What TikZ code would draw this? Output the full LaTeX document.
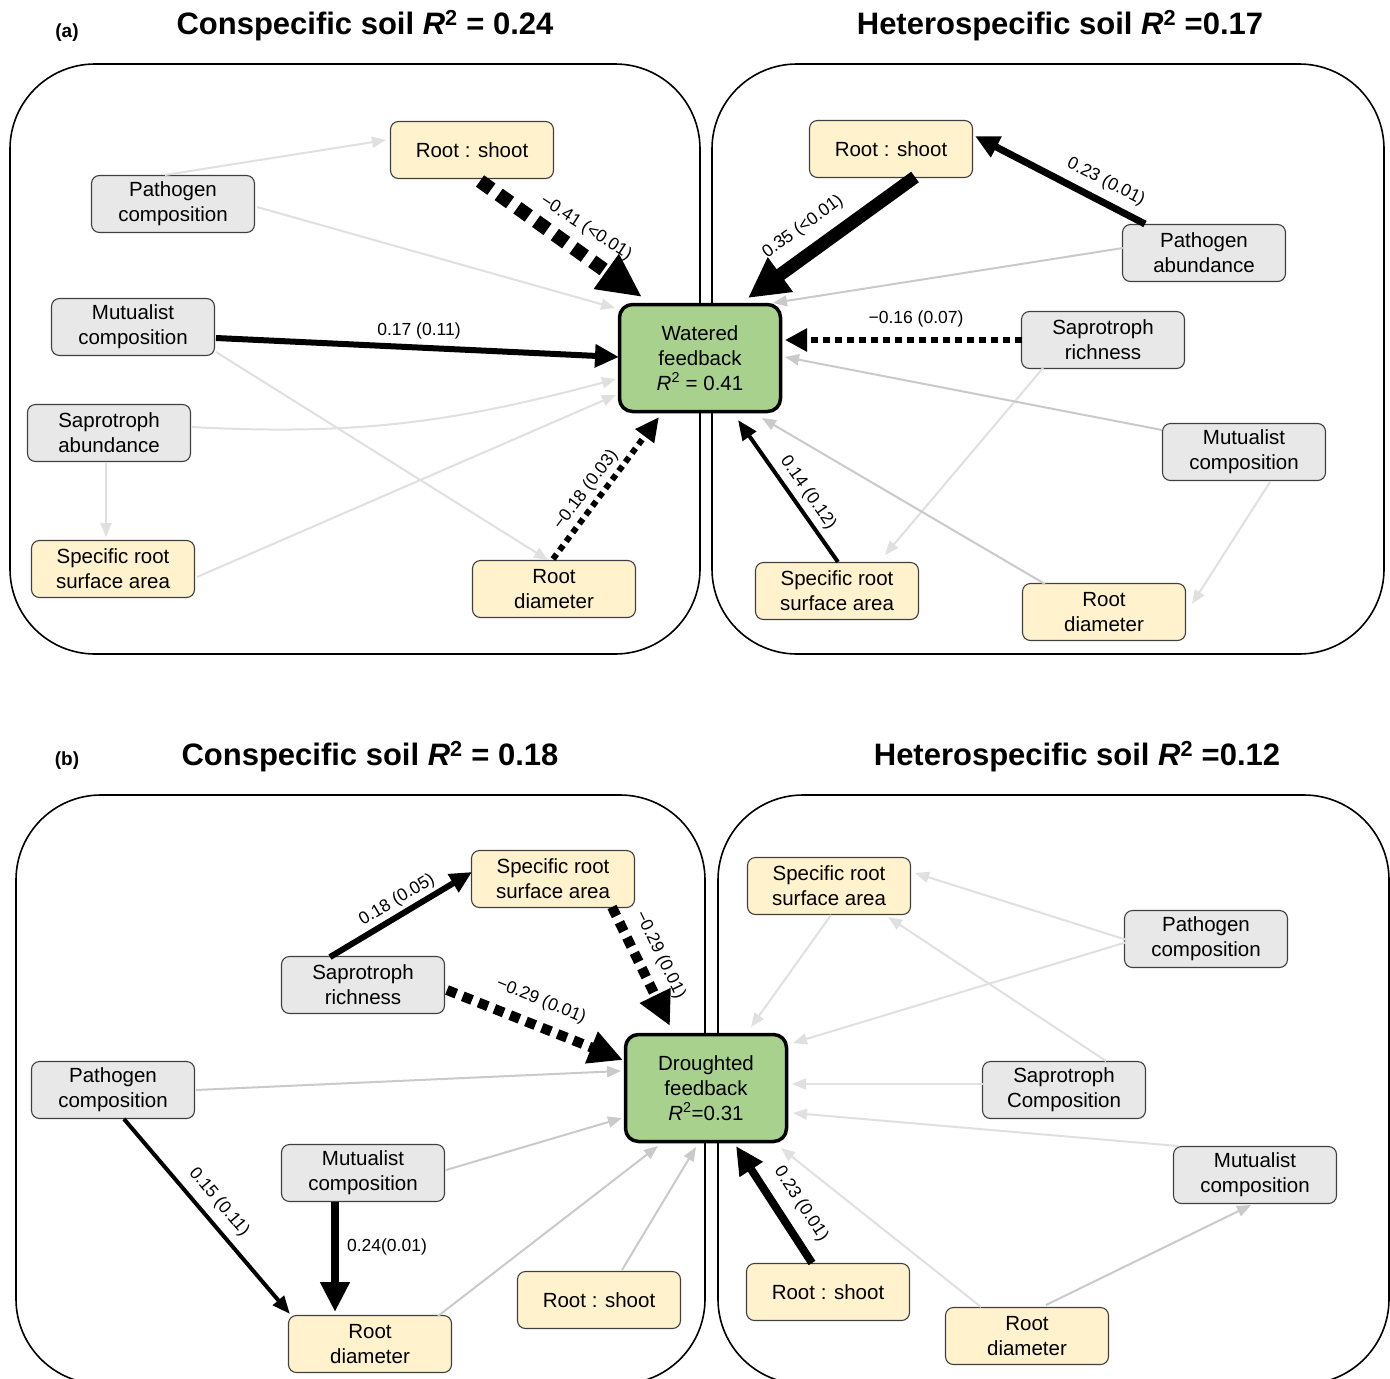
\documentclass[tikz,border=0pt]{standalone}
\usepackage{fontspec}
\setmainfont{Liberation Sans}
\usetikzlibrary{arrows.meta,calc}
\definecolor{gfill}{HTML}{E8E8E8}
\definecolor{yfill}{HTML}{FFF2CC}
\definecolor{grn}{HTML}{A9D18E}
\definecolor{eA}{HTML}{E0E0E0}
\definecolor{eB}{HTML}{CACACA}
\begin{document}
\begin{tikzpicture}[x=1pt,y=-1pt,
 box/.style={draw=black!75, line width=1.1pt, rounded corners=8pt, minimum width=163pt, minimum height=57pt, inner sep=0pt, align=center, font=\fontsize{20.5}{25}\selectfont},
 gbox/.style={box, fill=gfill},
 ybox/.style={box, fill=yfill},
 fb/.style={draw=black, line width=3.5pt, rounded corners=13pt, fill=grn, minimum width=161pt, minimum height=107pt, align=center, inner sep=0pt, font=\fontsize{20.5}{25}\selectfont},
 panel/.style={draw=black, line width=1.6pt, rounded corners=85pt},
 ga/.style={draw=eA, line width=2pt, -{Triangle[length=14pt,width=11pt]}},
 gb/.style={draw=eB, line width=2pt, -{Triangle[length=14pt,width=11pt]}},
 bk/.style={draw=black},
 lab/.style={font=\fontsize{17.5}{21}\selectfont, inner sep=0pt},
 ttl/.style={font=\fontsize{31}{36}\bfseries\selectfont, inner sep=0pt},
 tag/.style={font=\fontsize{19}{22}\bfseries\selectfont, inner sep=0pt}
]
\useasboundingbox (0,0) rectangle (1390,1379);
\fill[white] (0,0) rectangle (1390,1379);

% containers
\draw[panel] (10,64) rectangle (700,654);
\draw[panel] (712,64) rectangle (1384,654);
\draw[panel] (16,795) rectangle (705,1384);
\draw[panel] (718,795) rectangle (1389,1384);

% titles
\node[tag] (ta) at (67,33) {(a)};
\node[ttl] (t1) at (365,26) {Conspecific soil \textit{R}\textsuperscript{2} = 0.24};
\node[ttl] (t2) at (1060,26) {Heterospecific soil \textit{R}\textsuperscript{2} =0.17};
\node[tag] (tb) at (67,761) {(b)};
\node[ttl] (t3) at (370,757) {Conspecific soil \textit{R}\textsuperscript{2} = 0.18};
\node[ttl] (t4) at (1077,757) {Heterospecific soil \textit{R}\textsuperscript{2} =0.12};

% central boxes
\node[fb] (wfA) at (700,358) {Watered\\feedback\\\textit{R}\textsuperscript{2} = 0.41};
\node[fb] (df) at (706,1088) {Droughted\\feedback\\\textit{R}\textsuperscript{2}=0.31};

% (a) left nodes
\node[ybox] (rsA) at (472,150) {Root : shoot};
\node[gbox] (pcA) at (173,204) {Pathogen\\composition};
\node[gbox] (mcA) at (133,327) {Mutualist\\composition};
\node[gbox] (saA) at (109,433) {Saprotroph\\abundance};
\node[ybox] (srA) at (113,569) {Specific root\\surface area};
\node[ybox] (rdA) at (554,589) {Root\\diameter};

% (a) right nodes
\node[ybox] (rsB) at (891,149) {Root : shoot};
\node[gbox] (paB) at (1204,253) {Pathogen\\abundance};
\node[gbox] (srB) at (1103,340) {Saprotroph\\richness};
\node[gbox] (mcB) at (1244,452) {Mutualist\\composition};
\node[ybox] (ssB) at (837,591) {Specific root\\surface area};
\node[ybox] (rdB) at (1104,612) {Root\\diameter};

% (b) left nodes
\node[ybox] (ssC) at (553,879) {Specific root\\surface area};
\node[gbox] (srC) at (363,985) {Saprotroph\\richness};
\node[gbox] (pcC) at (113,1090) {Pathogen\\composition};
\node[gbox] (mcC) at (363,1173) {Mutualist\\composition};
\node[ybox] (rdC) at (370,1344) {Root\\diameter};
\node[ybox] (rsC) at (599,1300) {Root : shoot};

% (b) right nodes
\node[ybox] (ssD) at (829,886) {Specific root\\surface area};
\node[gbox] (pcD) at (1206,939) {Pathogen\\composition};
\node[gbox] (scD) at (1064,1090) {Saprotroph\\Composition};
\node[gbox] (mcD) at (1255,1175) {Mutualist\\composition};
\node[ybox] (rsD) at (828,1292) {Root : shoot};
\node[ybox] (rdD) at (1027,1336) {Root\\diameter};

% (a) left edges
\draw[ga] ($(pcA)+(-8,-29)$) -- ($(rsA)+(-86,-10)$);
\draw[ga] ($(pcA)+(84,3)$) -- ($(wfA)+(-85,-50)$);
\draw[bk, line width=14pt, dash pattern=on 14pt off 9pt, -{Triangle[length=44pt,width=40pt]}] ($(rsA)+(8,31)$) -- ($(wfA)+(-58,-61)$);
\draw[bk, line width=6pt, -{Triangle[length=24pt,width=22pt]}] ($(mcA)+(83,11)$) -- ($(wfA)+(-81,-1)$);
\draw[ga] ($(mcA)+(83,25)$) -- ($(rdA)+(-6,-29)$);
\draw[ga] ($(saA)+(82,-6)$) to[out=-3,in=195] ($(wfA)+(-84,21)$);
\draw[ga] ($(srA)+(84,8)$) -- ($(wfA)+(-84,37)$);
\draw[ga] ($(saA)+(-3,29)$) -- ($(srA)+(-7,-32)$);
\draw[bk, line width=6pt, dash pattern=on 6pt off 5pt, -{Triangle[length=24pt,width=22pt]}] ($(rdA)+(-1,-30)$) -- ($(wfA)+(-41,59)$);

% (a) right edges
\draw[bk, line width=7pt, -{Triangle[length=24pt,width=22pt]}] ($(paB)+(-59,-29)$) -- ($(rsB)+(84,-13)$);
\draw[bk, line width=13pt, -{Triangle[length=40pt,width=40pt]}] ($(rsB)+(24,28)$) -- ($(wfA)+(48,-60)$);
\draw[gb] ($(paB)+(-81,-5)$) -- ($(wfA)+(73,-55)$);
\draw[bk, line width=6pt, dash pattern=on 7pt off 5pt, -{Triangle[length=22pt,width=22pt]}] ($(srB)+(-81,0)$) -- ($(wfA)+(85,-18)$);
\draw[ga] ($(srB)+(-60,28)$) -- ($(ssB)+(48,-36)$);
\draw[gb] ($(mcB)+(-82,-22)$) -- ($(wfA)+(85,-1)$);
\draw[ga] ($(mcB)+(26,30)$) -- ($(rdB)+(88,-8)$);
\draw[gb] ($(rdB)+(-59,-28)$) -- ($(wfA)+(62,60)$);
\draw[bk, line width=4pt, -{Triangle[length=20pt,width=16pt]}] ($(ssB)+(1,-29)$) -- ($(wfA)+(38,62)$);

% (b) left edges
\draw[bk, line width=6pt, -{Triangle[length=22pt,width=20pt]}] ($(srC)+(-33,-28)$) -- ($(ssC)+(-81,-7)$);
\draw[bk, line width=10pt, dash pattern=on 10pt off 7pt, -{Triangle[length=34pt,width=32pt]}] ($(ssC)+(59,28)$) -- ($(df)+(-36,-62)$);
\draw[bk, line width=10pt, dash pattern=on 10pt off 7pt, -{Triangle[length=34pt,width=32pt]}] ($(srC)+(84,5)$) -- ($(df)+(-83,-28)$);
\draw[gb] ($(pcC)+(83,0)$) -- ($(df)+(-85,-17)$);
\draw[gb] ($(mcC)+(83,-3)$) -- ($(df)+(-84,30)$);
\draw[bk, line width=4pt, -{Triangle[length=18pt,width=14pt]}] ($(pcC)+(11,29)$) -- ($(rdC)+(-80,-30)$);
\draw[bk, line width=8pt, -{Triangle[length=30pt,width=28pt]}] ($(mcC)+(-28,29)$) -- ($(rdC)+(-35,-32)$);
\draw[gb] ($(rdC)+(68,-28)$) -- ($(df)+(-48,58)$);
\draw[gb] ($(rsC)+(23,-30)$) -- ($(df)+(-10,59)$);

% (b) right edges
\draw[ga] ($(pcD)+(-79,1)$) -- ($(ssD)+(86,-13)$);
\draw[ga] ($(pcD)+(-79,3)$) -- ($(df)+(87,-45)$);
\draw[ga] ($(ssD)+(2,29)$) -- ($(df)+(45,-61)$);
\draw[ga] ($(scD)+(42,-29)$) -- ($(ssD)+(59,31)$);
\draw[ga] ($(scD)+(-81,-6)$) -- ($(df)+(86,-4)$);
\draw[ga] ($(mcD)+(-77,-29)$) -- ($(df)+(87,25)$);
\draw[bk, line width=8pt, -{Triangle[length=28pt,width=26pt]}] ($(rsD)+(-16,-29)$) -- ($(df)+(30,58)$);
\draw[ga] ($(rdD)+(-46,-29)$) -- ($(df)+(75,60)$);
\draw[gb] ($(rdD)+(19,-31)$) -- ($(mcD)+(-4,30)$);

% labels
\node[lab, rotate=-33] (la1) at (586,228) {−0.41 (<0.01)};
\node[lab] (la2) at (419,331) {0.17 (0.11)};
\node[lab, rotate=53] (la3) at (586,490) {−0.18 (0.03)};
\node[lab, rotate=-27] (la4) at (1106,182) {0.23 (0.01)};
\node[lab, rotate=36] (la5) at (803,227) {0.35 (<0.01)};
\node[lab] (la6) at (916,319) {−0.16 (0.07)};
\node[lab, rotate=-55] (la7) at (808,493) {0.14 (0.12)};
\node[lab, rotate=31] (lb1) at (397,900) {0.18 (0.05)};
\node[lab, rotate=-64] (lb2) at (660,955) {−0.29 (0.01)};
\node[lab, rotate=-22] (lb3) at (541,1001) {−0.29 (0.01)};
\node[lab, rotate=-50] (lb4) at (219,1202) {0.15 (0.11)};
\node[lab] (lb5) at (387,1247) {0.24(0.01)};
\node[lab, rotate=-57] (lb6) at (801,1204) {0.23 (0.01)};
\end{tikzpicture}
\end{document}
